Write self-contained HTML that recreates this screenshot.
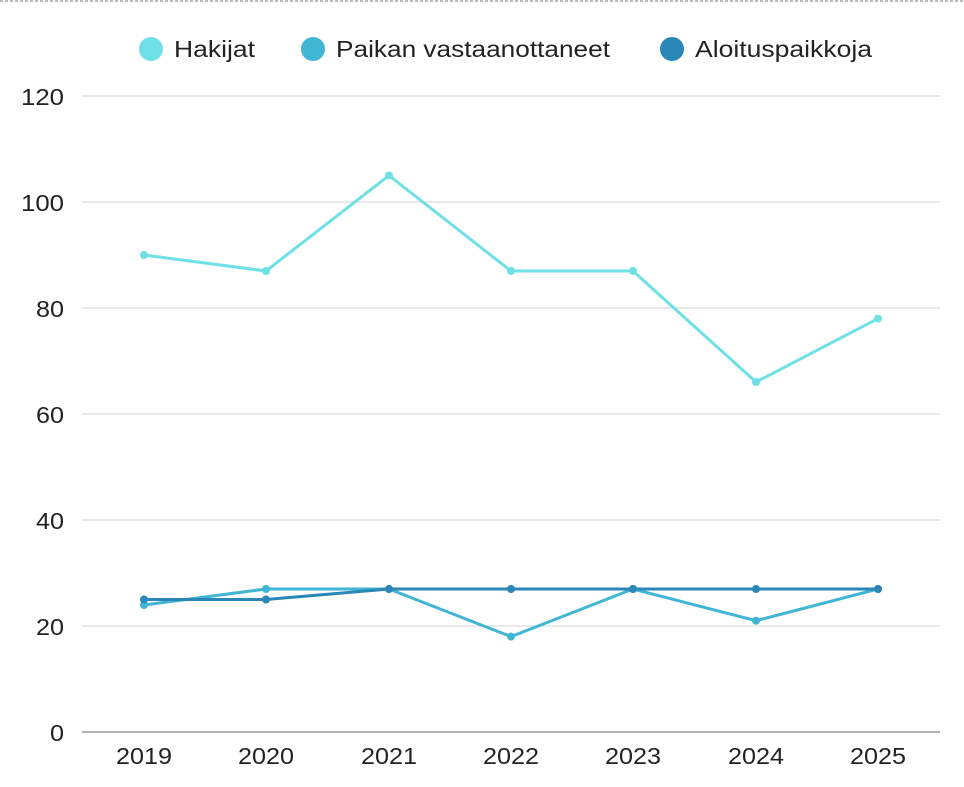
<!DOCTYPE html>
<html><head><style>
body{margin:0;background:#fff;width:964px;height:782px;overflow:hidden}
text{font-family:"Liberation Sans",sans-serif;fill:#222}
</style></head><body>
<svg width="964" height="782" viewBox="0 0 964 782">
<line x1="0" y1="1" x2="964" y2="1" stroke="#bbb" stroke-width="2" stroke-dasharray="3,2"/>
<circle cx="151" cy="49" r="12" fill="#6fe0e6"/><text x="174" y="57" font-size="23" textLength="81" lengthAdjust="spacingAndGlyphs">Hakijat</text>
<circle cx="313" cy="49" r="12" fill="#41b5d4"/><text x="336" y="57" font-size="23" textLength="274" lengthAdjust="spacingAndGlyphs">Paikan vastaanottaneet</text>
<circle cx="672" cy="49" r="12" fill="#2a87b8"/><text x="695" y="57" font-size="23" textLength="177" lengthAdjust="spacingAndGlyphs">Aloituspaikkoja</text>
<g stroke="#dcdcdc" stroke-width="1.2">
<line x1="82" y1="96" x2="940" y2="96"/><line x1="82" y1="202" x2="940" y2="202"/><line x1="82" y1="308" x2="940" y2="308"/><line x1="82" y1="414" x2="940" y2="414"/><line x1="82" y1="520" x2="940" y2="520"/><line x1="82" y1="626" x2="940" y2="626"/>
</g>
<line x1="82" y1="732" x2="940" y2="732" stroke="#999" stroke-width="1.5"/>
<g font-size="23" text-anchor="end">
<text x="64" y="105" textLength="43" lengthAdjust="spacingAndGlyphs">120</text><text x="64" y="211" textLength="43" lengthAdjust="spacingAndGlyphs">100</text><text x="64" y="317" textLength="28" lengthAdjust="spacingAndGlyphs">80</text><text x="64" y="423" textLength="28" lengthAdjust="spacingAndGlyphs">60</text><text x="64" y="529" textLength="28" lengthAdjust="spacingAndGlyphs">40</text><text x="64" y="635" textLength="28" lengthAdjust="spacingAndGlyphs">20</text><text x="64" y="741" textLength="14" lengthAdjust="spacingAndGlyphs">0</text>
</g>
<g font-size="23" text-anchor="middle">
<text x="144" y="764" textLength="56" lengthAdjust="spacingAndGlyphs">2019</text><text x="266" y="764" textLength="56" lengthAdjust="spacingAndGlyphs">2020</text><text x="389" y="764" textLength="56" lengthAdjust="spacingAndGlyphs">2021</text><text x="511" y="764" textLength="56" lengthAdjust="spacingAndGlyphs">2022</text><text x="633" y="764" textLength="56" lengthAdjust="spacingAndGlyphs">2023</text><text x="756" y="764" textLength="56" lengthAdjust="spacingAndGlyphs">2024</text><text x="878" y="764" textLength="56" lengthAdjust="spacingAndGlyphs">2025</text>
</g>
<g fill="none" stroke-width="3" stroke-linejoin="round">
<polyline stroke="#6fe0e6" points="144,255 266,271 389,175.5 511,271 633,271 756,382 878,318.6"/>
<polyline stroke="#41b5d4" points="144,605 266,589 389,589 511,636.6 633,589 756,620.7 878,589"/>
<polyline stroke="#2a87b8" points="144,599.5 266,599.5 389,589 511,589 633,589 756,589 878,589"/>
</g>
<g fill="#6fe0e6"><circle cx="144" cy="255" r="4"/><circle cx="266" cy="271" r="4"/><circle cx="389" cy="175.5" r="4"/><circle cx="511" cy="271" r="4"/><circle cx="633" cy="271" r="4"/><circle cx="756" cy="382" r="4"/><circle cx="878" cy="318.6" r="4"/></g>
<g fill="#41b5d4"><circle cx="144" cy="605" r="4"/><circle cx="266" cy="589" r="4"/><circle cx="389" cy="589" r="4"/><circle cx="511" cy="636.6" r="4"/><circle cx="633" cy="589" r="4"/><circle cx="756" cy="620.7" r="4"/><circle cx="878" cy="589" r="4"/></g>
<g fill="#2a87b8"><circle cx="144" cy="599.5" r="4"/><circle cx="266" cy="599.5" r="4"/><circle cx="389" cy="589" r="4"/><circle cx="511" cy="589" r="4"/><circle cx="633" cy="589" r="4"/><circle cx="756" cy="589" r="4"/><circle cx="878" cy="589" r="4"/></g>
</svg>
</body></html>
